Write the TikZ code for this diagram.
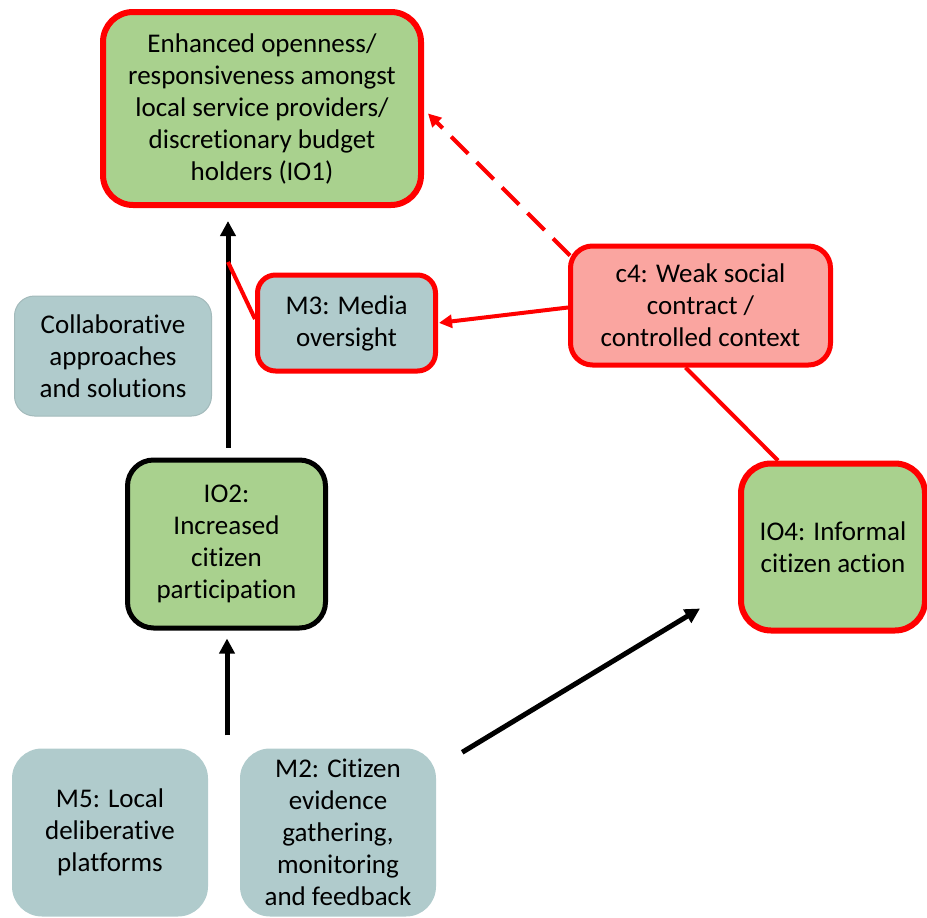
\documentclass[tikz,border=0pt]{standalone}
\usepackage{fontspec}
\setmainfont{Carlito}[RawFeature={-liga;-clig;-calt;-dlig}]
\usetikzlibrary{arrows.meta}
\definecolor{leaf}{HTML}{A9D18E}
\definecolor{slate}{HTML}{B0CBCC}
\definecolor{salmon}{HTML}{FAA5A0}
\definecolor{alarm}{HTML}{FF0000}
\definecolor{slateedge}{HTML}{A3BABB}
\begin{document}
\begin{tikzpicture}[x=1pt,y=-1pt,
  box/.style={rectangle, align=center, inner sep=0pt,
    font=\fontsize{27}{32}\selectfont},
  outcome/.style={box, fill=leaf},
  mech/.style={box, fill=slate},
  redrim/.style={draw=alarm},
  blackarrow/.style={draw=black, line width=5pt,
    -{Triangle[length=15pt,width=15pt]}},
  redarrow/.style={draw=alarm, line width=4pt,
    -{Triangle[length=13pt,width=13pt]}},
  redline/.style={draw=alarm, line width=4pt}]
\useasboundingbox (0,0) rectangle (927,918);

% outcome boxes
\node[outcome, redrim, line width=6pt, rounded corners=30pt,
  minimum width=318pt, minimum height=193pt] (io1) at (262,108.5)
  {Enhanced openness/\\responsiveness amongst\\local service providers/\\discretionary budget\\holders (IO1)};
\node[outcome, draw=black, line width=5pt, rounded corners=26pt,
  minimum width=198pt, minimum height=168pt] (io2) at (226.5,544)
  {IO2:\\Increased\\citizen\\participation};
\node[outcome, redrim, line width=6pt, rounded corners=30pt,
  minimum width=184pt, minimum height=167pt] (io4) at (833,547)
  {IO4: Informal\\citizen action};

% mechanism and context boxes
\node[mech, redrim, line width=5pt, rounded corners=18pt,
  minimum width=178pt, minimum height=96pt] (m3) at (346.5,323)
  {M3: Media\\oversight};
\node[box, fill=salmon, redrim, line width=5pt, rounded corners=22pt,
  minimum width=260pt, minimum height=119pt] (c4) at (700.5,305.5)
  {c4: Weak social\\contract /\\controlled context};
\node[mech, draw=slateedge, line width=1pt, rounded corners=20pt,
  minimum width=197pt, minimum height=120pt] (collab) at (113,356)
  {Collaborative\\approaches\\and solutions};
\node[mech, rounded corners=30pt,
  minimum width=196pt, minimum height=168pt] (m5) at (110,832.5)
  {M5: Local\\deliberative\\platforms};
\node[mech, rounded corners=30pt,
  minimum width=196pt, minimum height=168pt] (m2) at (338,832.5)
  {M2: Citizen\\evidence\\gathering,\\monitoring\\and feedback};

% point on the IO2 -> IO1 arrow where media oversight joins
\coordinate (tap) at (228,262);

% black causal arrows
\draw[blackarrow, shorten <=10pt, shorten >=13pt]
  ([xshift=1.5pt]io2.north) -- ([xshift=1.5pt]io2.north |- io1.south);
\draw[blackarrow, shorten <=13pt, shorten >=8pt]
  ([xshift=0.5pt]io2.south |- m2.north) -- ([xshift=0.5pt]io2.south);
\draw[blackarrow]
  ([xshift=26pt,yshift=-4pt]m2.north east) -- ([xshift=-38pt,yshift=25pt]io4.south west);

% red links from the context
\draw[redline] (tap) -- ([yshift=4pt]m3.west);
\draw[redarrow, shorten >=1pt] ([yshift=-2pt]c4.west) -- (m3.east);
\draw[redarrow, dashed, dash pattern=on 24pt off 12pt]
  ([xshift=2pt,yshift=-12pt]c4.north west) -- ([xshift=4pt,yshift=-5pt]io1.east);
\draw[redline] ([xshift=-15pt]c4.south) -- ([xshift=-55pt]io4.north);
\end{tikzpicture}
\end{document}
